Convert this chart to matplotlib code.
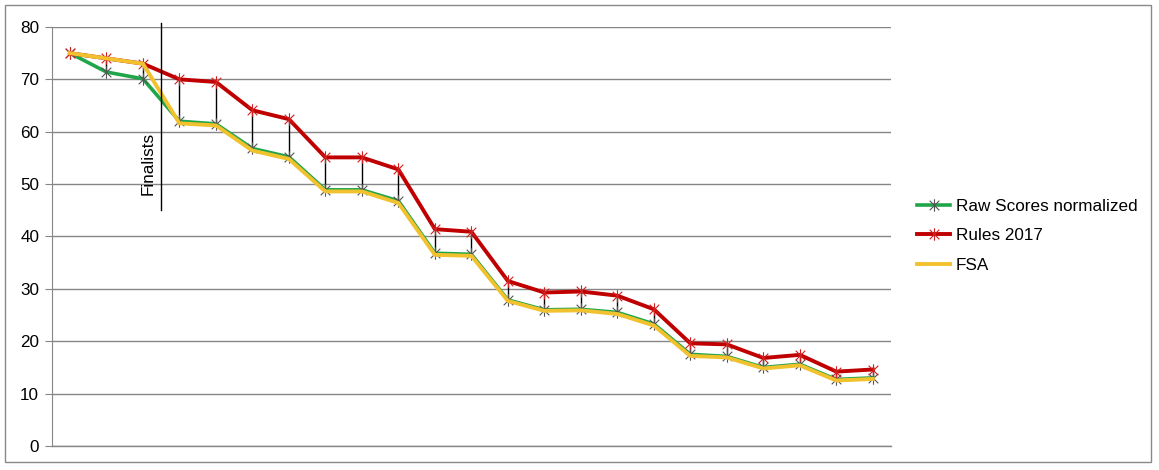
import numpy as np
import matplotlib
matplotlib.use("Agg")
import matplotlib.pyplot as plt
from matplotlib.path import Path
from matplotlib.patches import Rectangle

# values (23 contestants, ordered by rank)
raw_scores = [75.0, 71.4, 70.1, 62.0, 61.5, 56.8, 55.2, 48.9, 48.9, 46.8, 36.8, 36.6,
              27.9, 26.0, 26.1, 25.5, 23.3, 17.5, 17.1, 15.0, 15.6, 12.7, 13.0]
rules_2017 = [75.0, 74.0, 73.0, 70.0, 69.5, 64.1, 62.4, 55.1, 55.1, 52.8, 41.4, 40.9,
              31.5, 29.3, 29.5, 28.7, 26.1, 19.6, 19.4, 16.8, 17.4, 14.2, 14.6]
fsa = [75.0, 74.0, 73.0, 61.6, 61.2, 56.4, 54.8, 48.6, 48.6, 46.4, 36.5, 36.3,
       27.7, 25.8, 25.9, 25.2, 23.0, 17.2, 16.9, 14.8, 15.4, 12.5, 12.8]
series_names = ['Raw Scores normalized', 'Rules 2017', 'FSA']
y_ticks = [0, 10, 20, 30, 40, 50, 60, 70, 80]
finalist_cut = 2.5

plt.rcParams['font.family'] = ['Liberation Sans', 'DejaVu Sans']

# excel style "star" marker: an x with a vertical bar
star = Path([(-1, -1), (1, 1), (-1, 1), (1, -1), (0, -1.3), (0, 1.3)],
            [Path.MOVETO, Path.LINETO, Path.MOVETO, Path.LINETO, Path.MOVETO, Path.LINETO])

fig = plt.figure(figsize=(11.59, 4.70), dpi=100)
ax = fig.add_axes([0.0446, 0.0511, 0.7242, 0.8915])

x = np.arange(len(raw_scores))
data = np.array([raw_scores, rules_2017, fsa])

# high-low lines
ax.vlines(x, data.min(axis=0), data.max(axis=0), color='black', lw=1, zorder=2)

ax.plot(x, raw_scores, color='#1fa64a', lw=2.6, marker=star, markersize=9,
        markeredgecolor='#555555', markeredgewidth=0.8, label=series_names[0], zorder=3)
ax.plot(x, rules_2017, color='#c00000', lw=2.8, marker=star, markersize=9,
        markeredgecolor='#d02020', markeredgewidth=0.8, label=series_names[1], zorder=3)
ax.plot(x, fsa, color='#f2c12e', lw=2.8, label=series_names[2], zorder=3)

# finalists separator
ax.plot([finalist_cut, finalist_cut], [45.0, 80.8], color='black', lw=1, clip_on=False, zorder=4)
ax.text(finalist_cut - 0.37, 54, 'Finalists', rotation=90, ha='center', va='center', fontsize=12.3)

ax.set_xlim(-0.5, len(raw_scores) - 0.5)
ax.set_ylim(0, 80)
ax.set_yticks(y_ticks)
ax.set_xticks([])
ax.yaxis.grid(True, color='#868686', lw=1)
ax.axhline(0, color='#868686', lw=1, clip_on=False, zorder=1)
ax.set_axisbelow(True)
for side in ['top', 'right', 'bottom']:
    ax.spines[side].set_visible(False)
ax.spines['left'].set_color('#868686')
ax.tick_params(axis='y', length=5, color='#868686', labelsize=12.3, pad=4)

fig.legend(loc='center left', bbox_to_anchor=(0.778, 0.498), frameon=False, fontsize=12.3,
           handlelength=1.95, handletextpad=0.3, labelspacing=0.85)

fig.patches.append(Rectangle((5 / 1159, 8 / 470), 1146 / 1159, 457 / 470, transform=fig.transFigure,
                             fill=False, edgecolor='#898989', lw=1))

fig.savefig('out.png', dpi=100)
